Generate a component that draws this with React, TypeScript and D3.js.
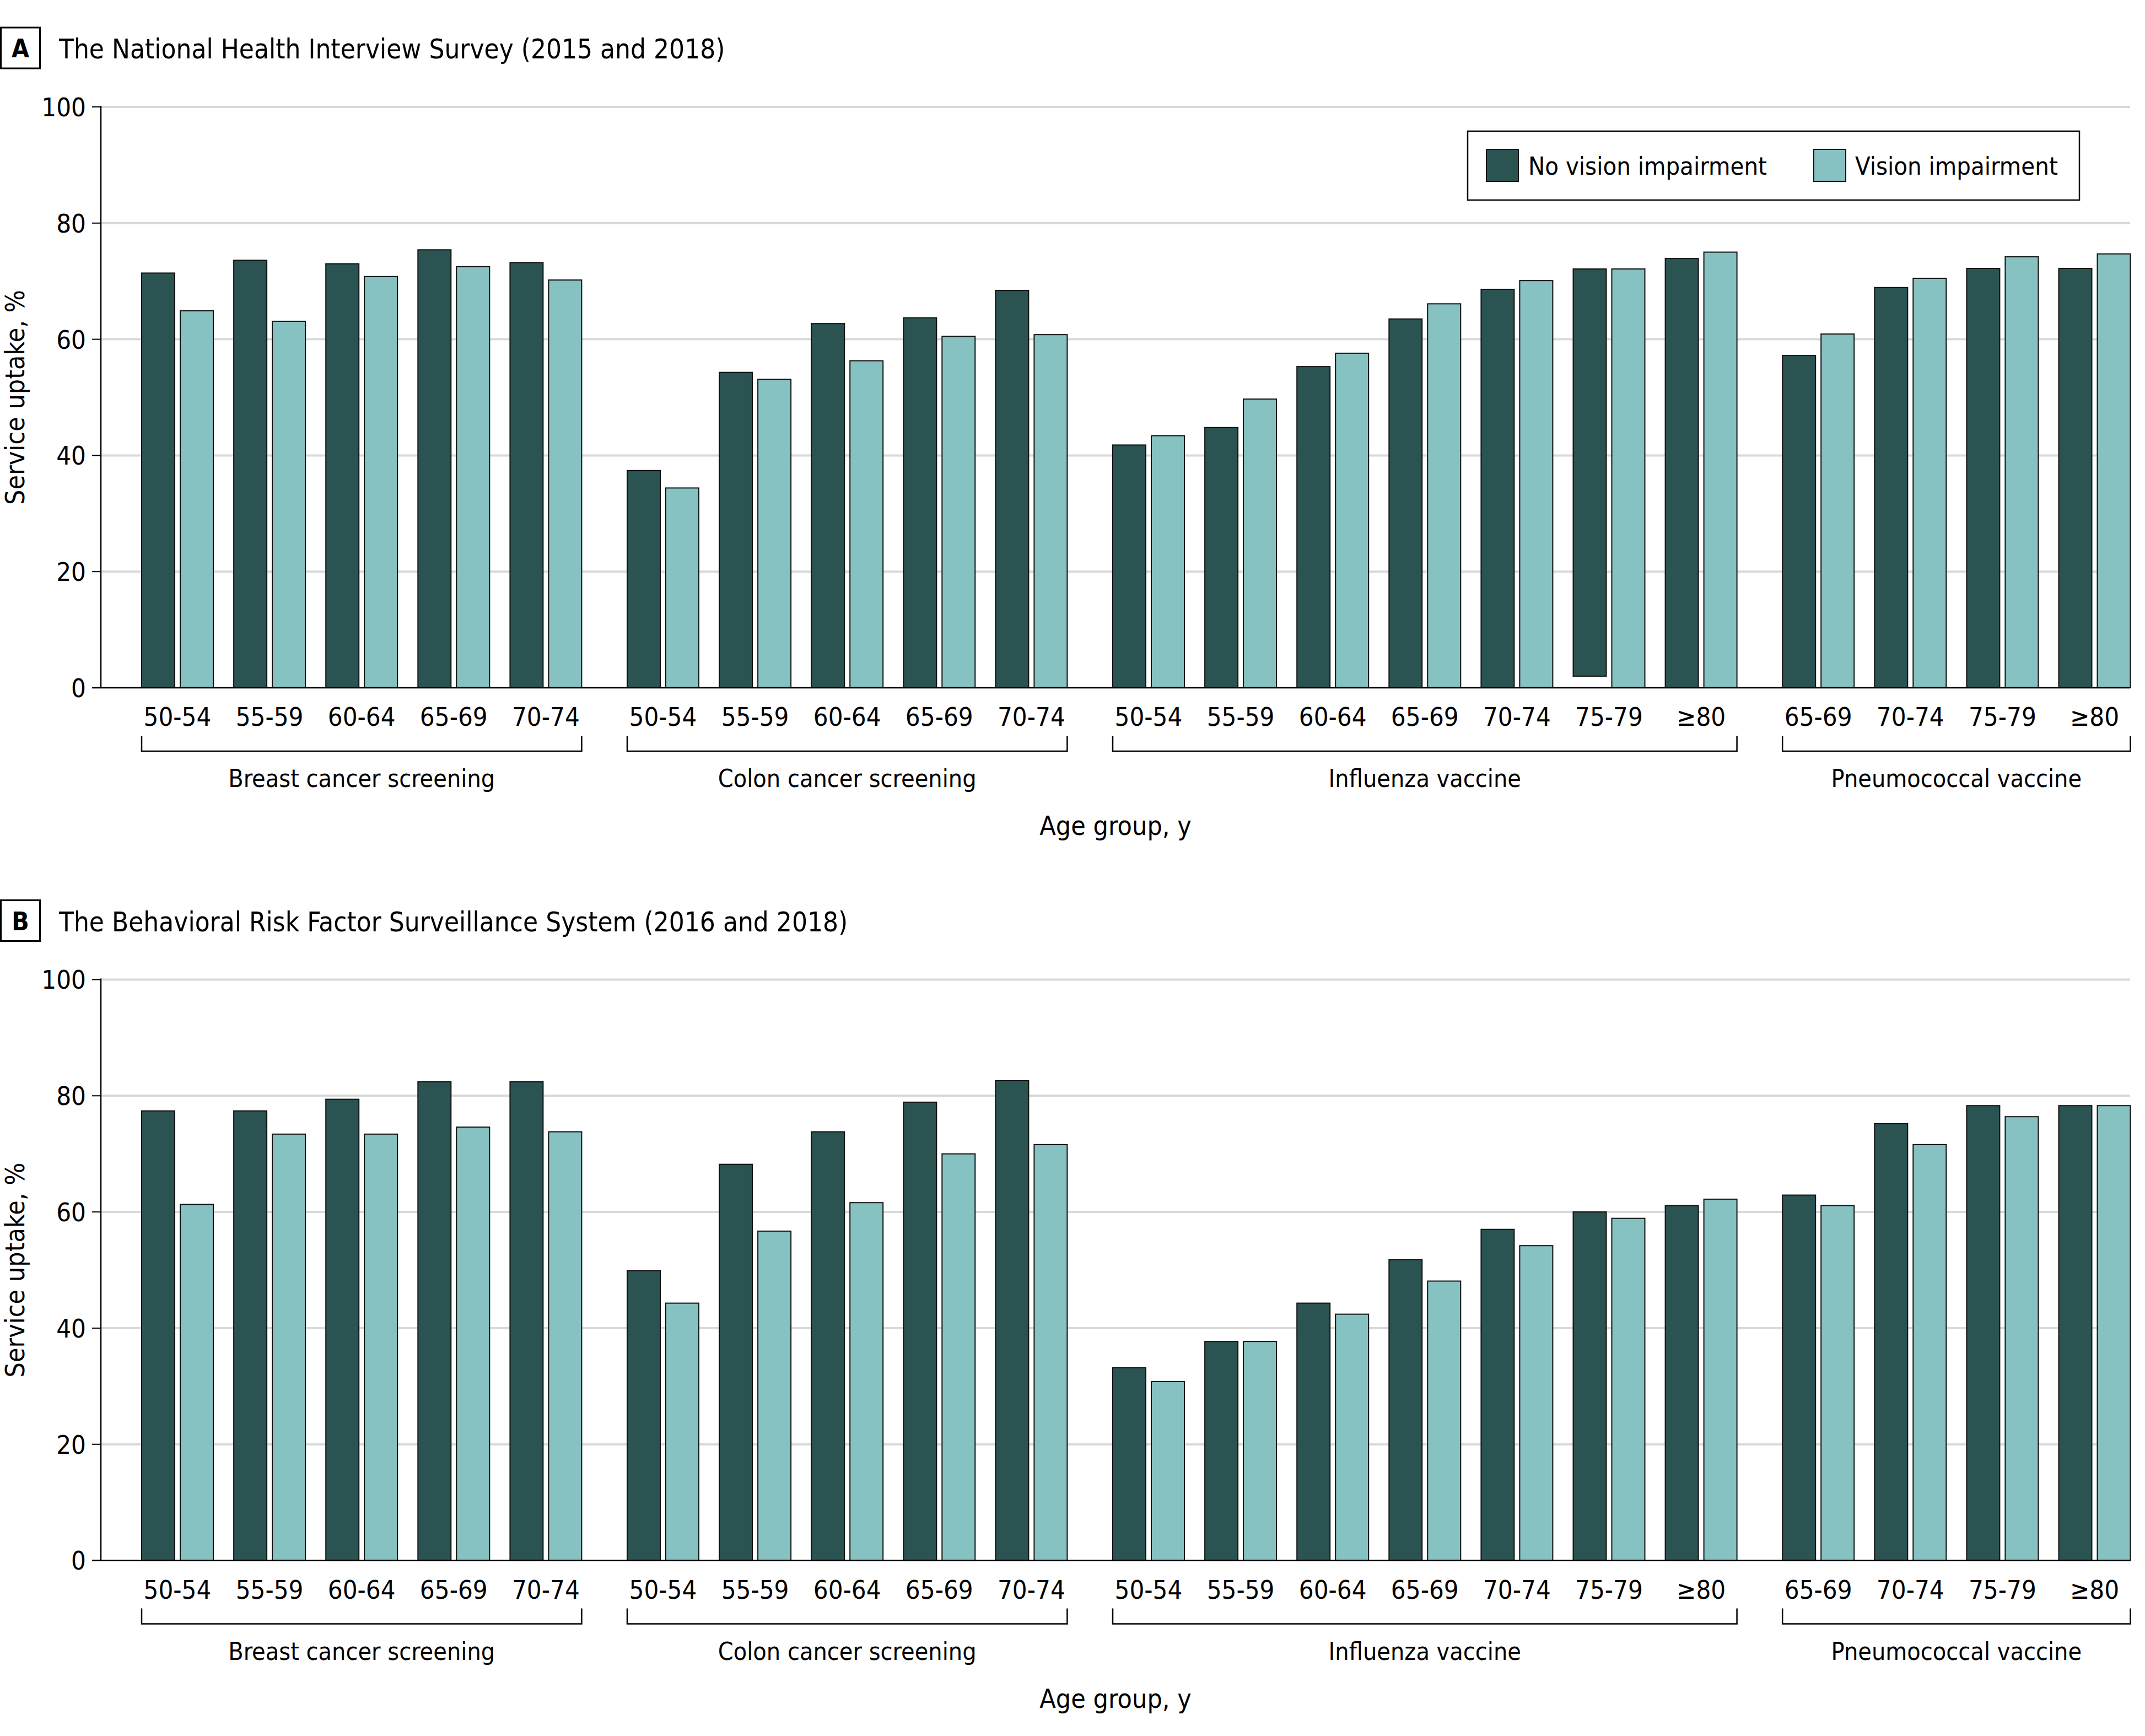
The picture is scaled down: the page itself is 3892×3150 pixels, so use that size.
import React from 'react';
import * as d3 from 'd3';

// ---------- data ----------
const groupNames = ['Breast cancer screening', 'Colon cancer screening', 'Influenza vaccine', 'Pneumococcal vaccine'];
const breastAges = ['50-54', '55-59', '60-64', '65-69', '70-74'];
const colonAges = ['50-54', '55-59', '60-64', '65-69', '70-74'];
const fluAges = ['50-54', '55-59', '60-64', '65-69', '70-74', '75-79', '≥80'];
const pneumoAges = ['65-69', '70-74', '75-79', '≥80'];
const groupAges = [breastAges, colonAges, fluAges, pneumoAges];

const seriesNames = ['No vision impairment', 'Vision impairment'];

// Panel A: NHIS
const nhisNoVI = [71.4, 73.6, 73.0, 75.4, 73.2, 37.4, 54.3, 62.7, 63.7, 68.4, 41.8, 44.8, 55.3, 63.5, 68.6, 72.1, 73.9, 57.2, 68.9, 72.2, 72.2];
const nhisNoVIStart = [0, 0, 0, 0, 0, 0, 0, 0, 0, 0, 0, 0, 0, 0, 0, 2, 0, 0, 0, 0, 0];
const nhisVI = [64.9, 63.1, 70.8, 72.5, 70.2, 34.4, 53.1, 56.3, 60.5, 60.8, 43.4, 49.7, 57.6, 66.1, 70.1, 72.1, 75.0, 60.9, 70.5, 74.2, 74.7];
// Panel B: BRFSS
const brfssNoVI = [77.4, 77.4, 79.4, 82.4, 82.4, 49.9, 68.2, 73.8, 78.9, 82.6, 33.2, 37.7, 44.3, 51.8, 57.0, 60.0, 61.1, 62.9, 75.2, 78.3, 78.3];
const brfssVI = [61.3, 73.4, 73.4, 74.6, 73.8, 44.3, 56.7, 61.6, 70.0, 71.6, 30.8, 37.7, 42.4, 48.1, 54.2, 58.9, 62.2, 61.1, 71.6, 76.4, 78.3];
const zeros = brfssNoVI.map(() => 0);

const yTicks = [0, 20, 40, 60, 80, 100];

// ---------- style ----------
const W = 3892;
const H = 3150;
const DARK = '#2a5352';
const LIGHT = '#86c2c1';
const GRID = '#d9d9d9';
const FONT = "'DejaVu Sans Condensed', 'DejaVu Sans', sans-serif";

const AXIS_X = 183;
const RIGHT = 3865;
const BAR_W = 60;
const BAR_GAP = 10;
const PAIR_W = BAR_W * 2 + BAR_GAP;
const GAP_FRAC = 45.5 / 167.1;

// slot -> left of bar pair
const xSlot = d3.scaleLinear().domain([0, 1]).range([257, 257 + 167.1]);

type Cat = { label: string; g: number; i: number; left: number };
const cats: Cat[] = [];
{
  let i = 0;
  groupAges.forEach((ages, g) => {
    ages.forEach((label) => {
      cats.push({ label, g, i, left: xSlot(i + g * GAP_FRAC) });
      i++;
    });
  });
}

function Panel({ dy, letter, title, noVI, noVIStart, vi, legend }: any) {
  const y = d3.scaleLinear().domain([0, 100]).range([1248 + dy, 194 + dy]);
  return (
    <g>
      {/* letter box + title */}
      <rect x={1.5} y={50 + dy} width={71} height={74} fill="#fff" stroke="#000" strokeWidth={3} />
      <text x={37} y={104 + dy} textAnchor="middle" fontSize={46} fontWeight="bold" fontFamily={FONT}>{letter}</text>
      <text x={107} y={106 + dy} fontSize={49} fontFamily={FONT}>{title}</text>

      {/* grid */}
      {yTicks.filter((t) => t > 0).map((t) => (
        <line key={'g' + t} x1={AXIS_X} x2={RIGHT} y1={y(t)} y2={y(t)} stroke={GRID} strokeWidth={4} />
      ))}
      {/* y ticks */}
      {yTicks.map((t) => (
        <g key={'t' + t}>
          <line x1={167} x2={AXIS_X} y1={y(t)} y2={y(t)} stroke="#000" strokeWidth={2} />
          <text x={156} y={y(t)} dy="0.36em" textAnchor="end" fontSize={47} fontFamily={FONT}>{t}</text>
        </g>
      ))}

      {/* bars */}
      {cats.map((c, k) => (
        <g key={'b' + k}>
          <rect x={c.left} y={y(noVI[k])} width={BAR_W} height={y(noVIStart[k]) - y(noVI[k])} fill={DARK} stroke="#111" strokeWidth={2} />
          <rect x={c.left + BAR_W + BAR_GAP} y={y(vi[k])} width={BAR_W} height={y(0) - y(vi[k])} fill={LIGHT} stroke="#111" strokeWidth={2} />
        </g>
      ))}

      {/* axes */}
      <line x1={AXIS_X} x2={AXIS_X} y1={y(100) - 2} y2={y(0)} stroke="#000" strokeWidth={2.5} />
      <line x1={167} x2={RIGHT} y1={y(0)} y2={y(0)} stroke="#000" strokeWidth={2.5} />

      {/* x tick labels */}
      {cats.map((c, k) => (
        <text key={'x' + k} x={c.left + PAIR_W / 2} y={1317 + dy} textAnchor="middle" fontSize={47} fontFamily={FONT}>{c.label}</text>
      ))}

      {/* group brackets */}
      {groupNames.map((name, g) => {
        const gc = cats.filter((c) => c.g === g);
        const x0 = gc[0].left;
        const x1 = gc[gc.length - 1].left + PAIR_W;
        return (
          <g key={'br' + g}>
            <path d={`M${x0},${1335 + dy}V${1363 + dy}H${x1}V${1335 + dy}`} fill="none" stroke="#000" strokeWidth={2.5} />
            <text x={(x0 + x1) / 2} y={1428 + dy} textAnchor="middle" fontSize={44.5} fontFamily={FONT}>{name}</text>
          </g>
        );
      })}

      {/* axis titles */}
      <text x={(AXIS_X + RIGHT) / 2} y={1515 + dy} textAnchor="middle" fontSize={48} fontFamily={FONT}>Age group, y</text>
      <text transform={`translate(44,${721 + dy}) rotate(-90)`} textAnchor="middle" fontSize={48} fontFamily={FONT}>Service uptake, %</text>

      {legend && (
        <g>
          <rect x={2663} y={238 + dy} width={1110} height={125} fill="#fff" stroke="#000" strokeWidth={2.5} />
          <rect x={2697} y={271 + dy} width={58} height={58} fill={DARK} stroke="#111" strokeWidth={2} />
          <text x={2773} y={317 + dy} fontSize={45} fontFamily={FONT}>{seriesNames[0]}</text>
          <rect x={3291} y={271 + dy} width={58} height={58} fill={LIGHT} stroke="#111" strokeWidth={2} />
          <text x={3366} y={317 + dy} fontSize={45} fontFamily={FONT}>{seriesNames[1]}</text>
        </g>
      )}
    </g>
  );
}

export default function App() {
  return (
    <svg width={W} height={H} viewBox={`0 0 ${W} ${H}`} style={{ position: 'absolute', left: 0, top: 0, background: '#fff' }}>
      <rect x={0} y={0} width={W} height={H} fill="#fff" />
      <Panel dy={0} letter="A" title="The National Health Interview Survey (2015 and 2018)" noVI={nhisNoVI} noVIStart={nhisNoVIStart} vi={nhisVI} legend />
      <Panel dy={1583.5} letter="B" title="The Behavioral Risk Factor Surveillance System (2016 and 2018)" noVI={brfssNoVI} noVIStart={zeros} vi={brfssVI} legend={false} />
    </svg>
  );
}
